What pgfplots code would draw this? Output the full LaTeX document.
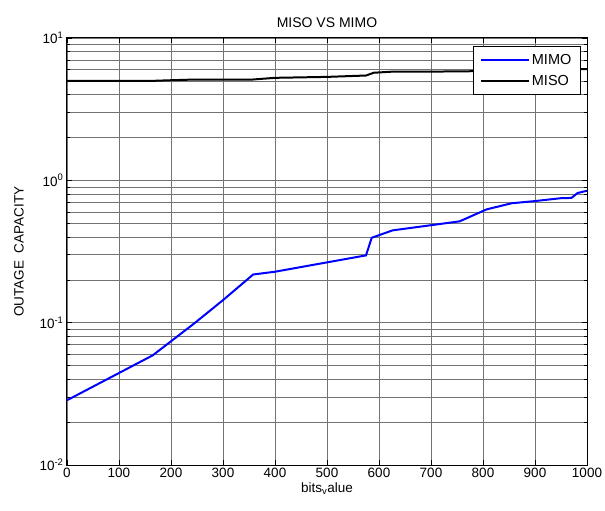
\documentclass[border=0pt]{standalone}
\usepackage{fontspec}
\setmainfont{Liberation Sans}
\usepackage{pgfplots}
\pgfplotsset{compat=1.18}

\begin{document}
\begin{tikzpicture}
\useasboundingbox (-67pt,-46pt) rectangle (538pt,465pt);
\begin{axis}[
  at={(0pt,0pt)}, anchor=south west,
  scale only axis,
  width=520pt, height=427pt,
  ymode=log,
  xmin=0, xmax=1000,
  ymin=0.01, ymax=10,
  xtick={0,100,...,1000},
  ytick={0.01,0.1,1,10},
  yticklabels={10\textsuperscript{-2},10\textsuperscript{-1},10\textsuperscript{0},10\textsuperscript{1}},
  tick align=inside,
  major tick length=5pt,
  minor tick length=3pt,
  grid=both,
  major grid style={black!55, line width=0.6pt},
  minor grid style={black!55, line width=0.6pt},
  axis line style={line width=1pt},
  tick style={black, line width=0.6pt},
  /pgf/number format/1000 sep={},
  /pgf/number format/assume math mode=true,
  ticklabel style={font=\fontsize{13.5}{16}\selectfont},
  title={MISO VS MIMO},
  title style={font=\fontsize{14}{16}\selectfont, yshift=1pt},
  xlabel={bits\textsubscript{v}alue},
  ylabel={OUTAGE\ \ CAPACITY},
  label style={font=\fontsize{13.5}{16}\selectfont},
  xlabel style={yshift=2pt},
  ylabel style={yshift=9pt},
  legend style={at={(0.988,0.981)}, anchor=north east, draw=black,
    line width=0.8pt, font=\fontsize{14.5}{16}\selectfont,
    row sep=5pt, inner xsep=7pt, inner ysep=6pt},
  legend cell align=left,
  legend image code/.code={\draw[#1, line width=2pt] (0pt,0pt) -- (48pt,0pt);},
]
\addplot[blue, line width=2pt] coordinates {
  (0,0.0285) (165,0.059) (200,0.074) (245,0.099) (300,0.144) (358,0.218)
  (400,0.228) (575,0.297) (586,0.395) (626,0.445) (755,0.515) (807,0.625)
  (855,0.69) (900,0.715) (951,0.75) (970,0.752) (982,0.815) (1000,0.845)
};
\addlegendentry{MIMO}
\addplot[black, line width=2pt] coordinates {
  (0,5.0) (165,5.0) (200,5.05) (240,5.1) (355,5.1) (400,5.25) (500,5.33)
  (575,5.45) (590,5.7) (625,5.8) (750,5.82) (850,5.9) (950,6.0) (1000,6.05)
};
\addlegendentry{MISO}
\end{axis}
\end{tikzpicture}
\end{document}
